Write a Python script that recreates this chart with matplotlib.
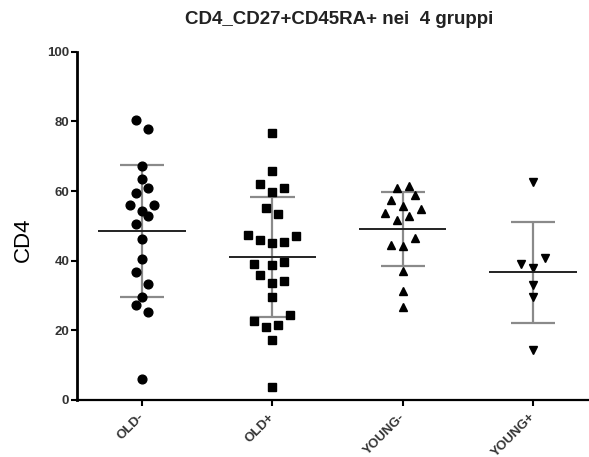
import numpy as np
import matplotlib
matplotlib.use("Agg")
import matplotlib.pyplot as plt
import matplotlib.transforms as mtrans

plt.rcParams['font.family'] = ['Liberation Sans', 'DejaVu Sans']

categories = ["OLD-", "OLD+", "YOUNG-", "YOUNG+"]

old_neg = [80.3, 77.9, 67.2, 63.4, 61.0, 59.3, 55.9, 55.9, 54.3, 52.9,
           50.5, 46.2, 40.5, 36.7, 33.3, 29.5, 27.3, 25.2, 6.1]
old_pos = [76.7, 65.8, 61.9, 60.8, 59.6, 55.1, 53.4, 47.4, 46.0, 45.1,
           45.4, 47.0, 39.1, 38.8, 39.7, 35.9, 33.5, 34.3, 29.5, 22.8,
           21.1, 21.4, 24.3, 17.3, 3.8]
young_neg = [61.0, 61.3, 58.8, 57.5, 55.6, 54.8, 53.6, 52.9, 51.6, 46.5,
             44.6, 44.1, 37.1, 31.4, 26.7]
young_pos = [62.6, 40.7, 39.0, 37.8, 33.0, 29.7, 14.3]

# scatter slot offsets (column-scatter layout), in slot units
slots_old_neg = [-1, 1, 0, 0, 1, -1, -2, 2, 0, 1, -1, 0, 0, -1, 1, 0, -1, 1, 0]
slots_old_pos = [0, 0, -2, 2, 0, -1, 1, -4, -2, 0, 2, 4, -3, 0, 2, -2, 0, 2, 0,
                 -3, -1, 1, 3, 0, 0]
slots_young_neg = [-1, 1, 2, -2, 0, 3, -3, 1, -1, 2, -2, 0, 0, 0, 0]
slots_young_pos = [0, 2, -2, 0, 0, 0, 0]

yticks = [0, 20, 40, 60, 80, 100]
title = "CD4_CD27+CD45RA+ nei  4 gruppi"
ylabel = "CD4"

groups = [old_neg, old_pos, young_neg, young_pos]
slots = [slots_old_neg, slots_old_pos, slots_young_neg, slots_young_pos]
markers = ['o', 's', '^', 'v']
msizes = [6.3, 5.6, 6.0, 6.0]

fig = plt.figure(figsize=(5.89, 4.57), dpi=100)
ax = fig.add_axes([77/589, 1 - 400/457, 1 - 77/589, (400 - 51.7)/457])

slot_w = 0.046
for i, (vals, sl, mk, ms) in enumerate(zip(groups, slots, markers, msizes)):
    vals = np.array(vals)
    x = i + np.array(sl) * slot_w
    m = vals.mean()
    sd = vals.std(ddof=1)
    # error bars (SD)
    ax.plot([i, i], [m - sd, m + sd], color='#8a8a8a', lw=1.6, zorder=2,
            solid_capstyle='butt')
    for yv in (m - sd, m + sd):
        ax.plot([i - 0.17, i + 0.17], [yv, yv], color='#8a8a8a', lw=1.6,
                zorder=2, solid_capstyle='butt')
    ax.plot(x, vals, linestyle='none', marker=mk, ms=ms, color='black',
            zorder=3)
    ax.plot([i - 0.335, i + 0.335], [m, m], color='#222222', lw=1.4, zorder=4,
            solid_capstyle='butt')

ax.set_xlim(-0.5, 3.43)
ax.set_ylim(0, 100)
ax.set_yticks(yticks)
ax.set_yticklabels([str(t) for t in yticks], fontsize=9.5, fontweight='bold',
                   color='#333333')
ax.set_xticks(range(len(categories)))
ax.set_xticklabels(categories, rotation=45, ha='right', va='center',
                   rotation_mode='anchor', fontsize=9.5, fontweight='bold',
                   color='#333333')
shift = mtrans.ScaledTranslation(-3/100, 0, fig.dpi_scale_trans)
for lbl in ax.get_xticklabels():
    lbl.set_transform(lbl.get_transform() + shift)
ax.tick_params(axis='y', length=4, width=1.5, pad=1.5)
ax.tick_params(axis='x', length=4, width=1.5, pad=7)
for s in ('top', 'right'):
    ax.spines[s].set_visible(False)
ax.spines['left'].set_linewidth(2.0)
ax.spines['bottom'].set_linewidth(1.6)

ax.set_ylabel(ylabel, fontsize=16)
ax.yaxis.set_label_coords(-0.085, 0.46)

fig.text(339/589, 1 - 20/457, title, ha='center', va='center',
         fontsize=13.5, fontweight='bold', color='#222222')

fig.savefig("out.png", dpi=100)
